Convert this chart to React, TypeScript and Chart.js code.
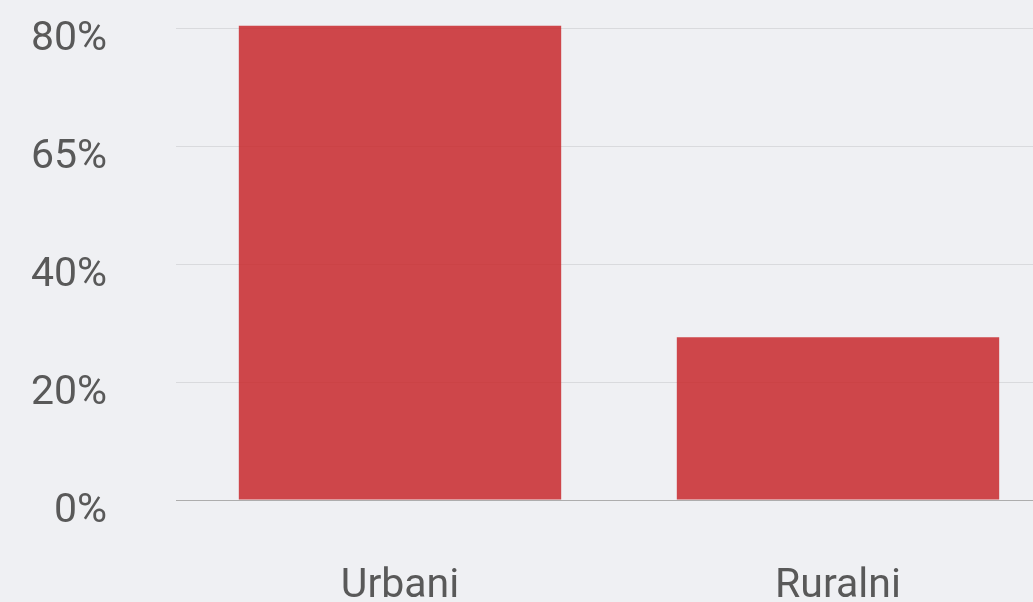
import React, { useEffect, useRef } from "react";
import { Chart, registerables } from "chart.js";

Chart.register(...registerables);

const categories = ["Urbani", "Ruralni"];
const values = [80.4, 27.6];
const yTickValues = [0, 20, 40, 60, 80];
const yTickLabels = ["0%", "20%", "40%", "65%", "80%"];

export default function App() {
  const ref = useRef<HTMLCanvasElement | null>(null);

  useEffect(() => {
    document.body.style.margin = "0";
    document.body.style.overflow = "hidden";
    document.body.style.background = "#eff0f3";
    const canvas = ref.current;
    if (!canvas) return;
    const chart = new Chart(canvas, {
      type: "bar",
      data: {
        labels: categories,
        datasets: [
          {
            data: values,
            backgroundColor: "rgba(200,40,43,0.85)",
            borderWidth: 0,
            categoryPercentage: 0.8,
            barPercentage: 0.92,
            clip: false as any,
          },
        ],
      },
      options: {
        animation: false,
        responsive: false,
        maintainAspectRatio: false,
        layout: { padding: { top: 28, right: 3, left: 0, bottom: 0 } },
        plugins: { legend: { display: false }, tooltip: { enabled: false } },
        scales: {
          x: {
            grid: { display: false },
            border: { display: false },
            afterFit: (scale: any) => {
              scale.height = 106;
              scale.paddingLeft = 0;
              scale.paddingRight = 0;
            },
            ticks: {
              color: "#595959",
              font: { family: "Roboto", size: 41 },
              padding: 54,
              maxRotation: 0,
            },
          },
          y: {
            min: 0,
            max: 80,
            afterBuildTicks: (scale: any) => {
              scale.ticks = yTickValues.map((v) => ({ value: v }));
            },
            afterFit: (scale: any) => {
              scale.width = 181;
              scale.paddingTop = 0;
              scale.paddingBottom = 0;
            },
            grid: {
              color: (ctx: any) => (ctx.index === 0 ? "#adadad" : "#d9dadd"),
              lineWidth: 1,
              tickLength: 5,
            },
            border: { display: false },
            ticks: {
              color: "#595959",
              font: { family: "Roboto", size: 41 },
              padding: 69,
              labelOffset: 12,
              callback: (_v: any, i: number) => yTickLabels[i],
            },
          },
        },
      },
    });
    return () => chart.destroy();
  }, []);

  return (
    <div style={{ position: "absolute", left: 0, top: 0, width: 1060, height: 606 }}>
      <canvas ref={ref} width={1060} height={606} style={{ width: 1060, height: 606 }} />
    </div>
  );
}
